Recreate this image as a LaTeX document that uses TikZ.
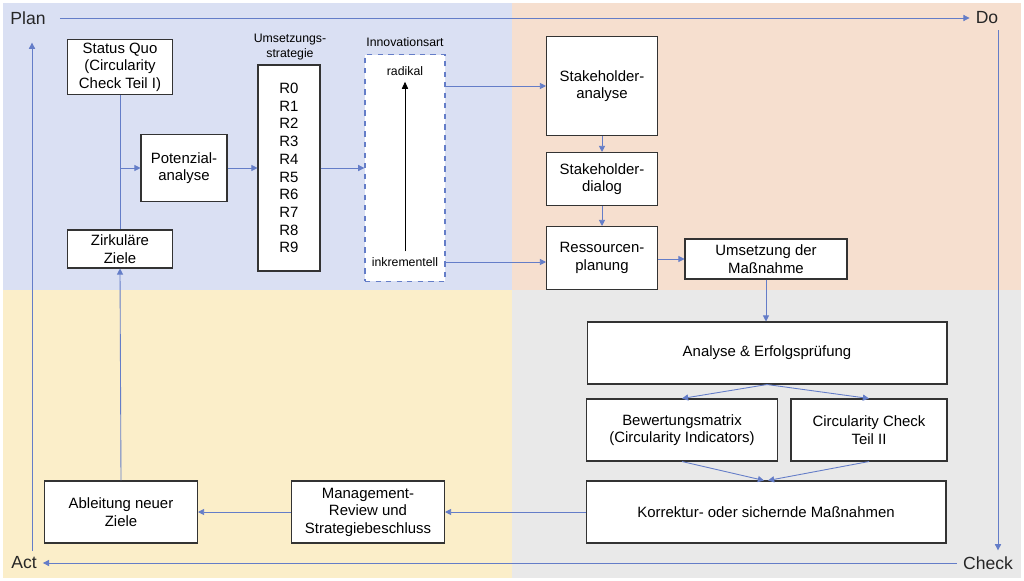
\documentclass[tikz,border=0pt]{standalone}
\usepackage{fontspec}
\setmainfont{Liberation Sans}
\usetikzlibrary{calc,arrows.meta}
\definecolor{planbg}{RGB}{218,224,243}
\definecolor{dobg}{RGB}{246,223,207}
\definecolor{actbg}{RGB}{251,238,201}
\definecolor{checkbg}{RGB}{233,233,233}
\definecolor{flow}{RGB}{100,125,200}
\begin{document}
\begin{tikzpicture}[x=0.02cm, y=-0.02cm,
    box/.style={draw=black!80, fill=white, line width=0.6pt, align=center, font=\fontsize{8.5}{10}\selectfont, inner sep=0pt},
    flowline/.style={draw=flow, line width=0.5pt},
    arr/.style={flowline, -{Triangle[length=3.5pt,width=3.5pt]}},
    phase/.style={font=\fontsize{10}{12}\selectfont, text=black!85},
    small/.style={font=\fontsize{7}{8.5}\selectfont, align=center}]
    \useasboundingbox (0,0) rectangle (1024,581);
    \fill[white] (0,0) rectangle (1024,581);
    \fill[planbg] (3,3) rectangle (512,290);
    \fill[dobg] (512,3) rectangle (1021,290);
    \fill[actbg] (3,290) rectangle (512,578);
    \fill[checkbg] (512,290) rectangle (1021,578);
    
    \node[phase] (plan) at (28,18) {Plan};
    \node[phase] (do) at (987,18) {Do};
    \node[phase] (check) at (988,563) {Check};
    \node[phase] (act) at (24,563) {Act};
    
    \node[box, minimum width=2.1cm, minimum height=1.1cm] (sq) at (120,67) {Status Quo\\(Circularity\\Check Teil I)};
    \node[box, minimum width=1.72cm, minimum height=1.34cm] (pot) at (184,168) {Potenzial-\\analyse};
    \node[box, minimum width=2.1cm, minimum height=0.76cm] (ziele) at (120,249) {Zirkuläre\\Ziele};
    \node[box, minimum width=1.24cm, minimum height=4.12cm, font=\fontsize{8.5}{10.1}\selectfont] (rstr) at (289,168) {R0\\R1\\R2\\R3\\R4\\R5\\R6\\R7\\R8\\R9};
    \node[small] (rlab) at (290,47) {Umsetzungs-\\strategie};
    \node[box, draw=flow, dashed, line width=0.8pt, minimum width=1.6cm, minimum height=4.54cm] (inno) at (405,168) {};
    \node[small] (ilab) at (405,42) {Innovationsart};
    \node[small] (rad) at (405,71) {radikal};
    \node[small] (ink) at (405,262) {inkrementell};
    
    \node[box, minimum width=2.22cm, minimum height=1.98cm] (sha) at (602,86) {Stakeholder-\\analyse};
    \node[box, minimum width=2.22cm, minimum height=1.06cm] (shd) at (602,179) {Stakeholder-\\dialog};
    \node[box, minimum width=2.22cm, minimum height=1.26cm] (res) at (602,258) {Ressourcen-\\planung};
    \node[box, minimum width=3.24cm, minimum height=0.8cm] (ums) at (766,259) {Umsetzung der\\Maßnahme};
    
    \node[box, minimum width=7.2cm, minimum height=1.24cm] (ana) at (767,353) {Analyse \& Erfolgsprüfung};
    \node[box, minimum width=3.82cm, minimum height=1.24cm] (bew) at (682,430) {Bewertungsmatrix\\(Circularity Indicators)};
    \node[box, minimum width=3.12cm, minimum height=1.24cm] (cc) at (869,430) {Circularity Check\\Teil II};
    \node[box, minimum width=7.2cm, minimum height=1.24cm] (kor) at (766,512) {Korrektur- oder sichernde Maßnahmen};
    \node[box, minimum width=3.06cm, minimum height=1.24cm] (man) at (368,512) {Management-\\Review und\\Strategiebeschluss};
    \node[box, minimum width=3.06cm, minimum height=1.24cm] (abl) at (121,512) {Ableitung neuer\\Ziele};
    
    % PDCA-Zyklus
    \draw[arr] (plan.east) ++(8,0) coordinate (p1) -- (do.west);
    \draw[arr] ($(do.south)+(11,0)$) -- ($(check.north)+(10,0)$);
    \draw[arr] (check.west) -- (act.east);
    \draw[arr] ($(act.north)+(8,0)$) -- ($(plan.south)+(4,12)$);
    
    \draw[flowline] (sq.south) -- (ziele.north);
    \draw[arr] (120,168) -- (pot.west);
    \draw[arr] (pot.east) -- (rstr.west);
    \draw[arr] (rstr.east) -- (inno.west);
    \draw[-{Triangle[length=4pt,width=3.5pt]}, black, line width=0.5pt] (ink.north) -- (rad.south);
    \draw[arr] (abl.north) -- (ziele.south);
    
    \draw[arr] (inno.east |- sha.west) -- (sha.west);
    \draw[arr] (inno.east |- ink) -- (res.west |- ink);
    \draw[arr] (sha.south) -- (shd.north);
    \draw[arr] (shd.south) -- (res.north);
    \draw[arr] (res.east |- ums) -- (ums.west);
    \draw[arr] (ums.south) -- (ums.south |- ana.north);
    \draw[arr] (ana.south) -- (bew.north);
    \draw[arr] (ana.south) -- (cc.north);
    \draw[arr] (bew.south) -- ($(kor.north)+(-2,0)$);
    \draw[arr] (cc.south) -- ($(kor.north)+(2,0)$);
    \draw[arr] (kor.west) -- (man.east);
    \draw[arr] (man.west) -- (abl.east);
\end{tikzpicture}
\end{document}
